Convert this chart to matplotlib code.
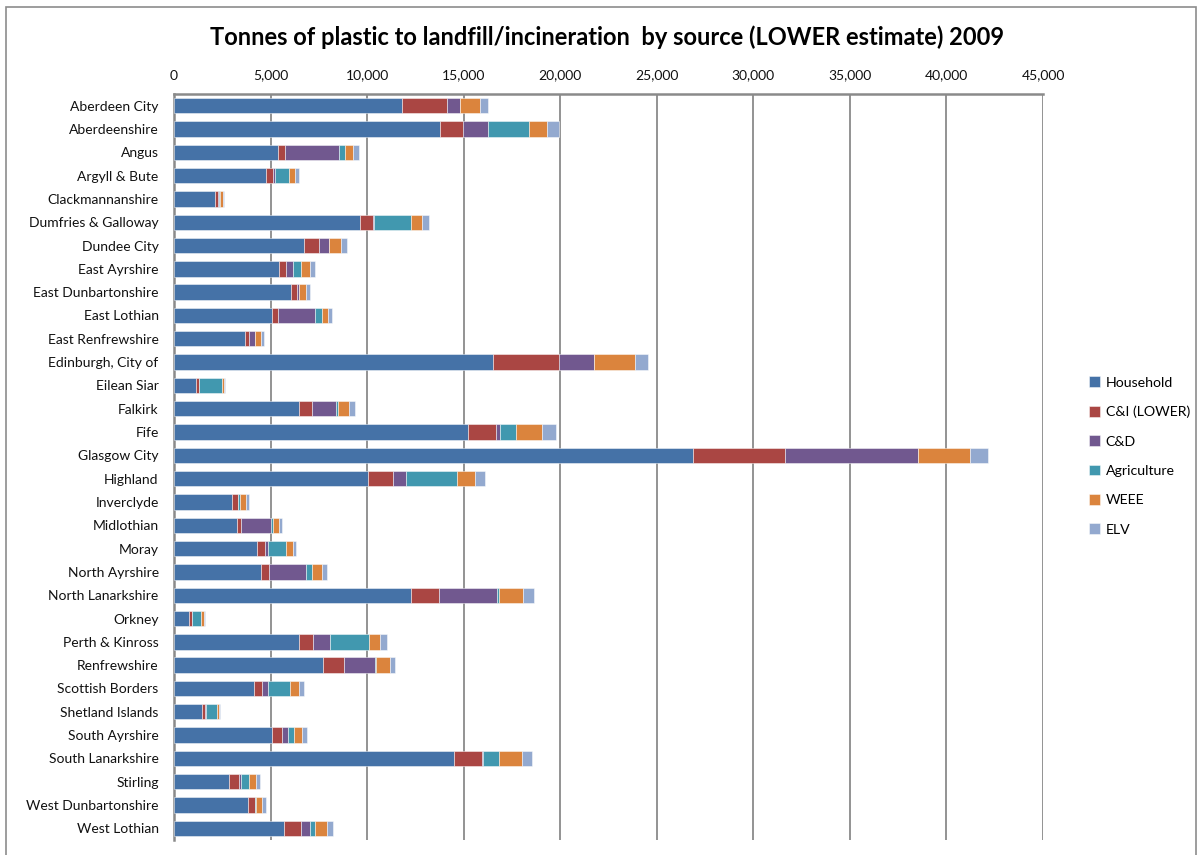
import matplotlib
matplotlib.use("Agg")
import matplotlib.pyplot as plt
from matplotlib.patches import Rectangle
from matplotlib.ticker import FuncFormatter
import numpy as np

plt.rcParams['font.family'] = ['Lato', 'DejaVu Sans']

councils = [
    "Aberdeen City", "Aberdeenshire", "Angus", "Argyll & Bute", "Clackmannanshire",
    "Dumfries & Galloway", "Dundee City", "East Ayrshire", "East Dunbartonshire",
    "East Lothian", "East Renfrewshire", "Edinburgh, City of", "Eilean Siar",
    "Falkirk", "Fife", "Glasgow City", "Highland", "Inverclyde", "Midlothian",
    "Moray", "North Ayrshire", "North Lanarkshire", "Orkney", "Perth & Kinross",
    "Renfrewshire", "Scottish Borders", "Shetland Islands", "South Ayrshire",
    "South Lanarkshire", "Stirling", "West Dunbartonshire", "West Lothian",
]

household = [11820, 13790, 5385, 4765, 2105, 9615, 6715, 5455, 6075, 5075, 3695,
             16500, 1155, 6475, 15240, 26900, 10065, 2985, 3245, 4315, 4520, 12290,
             795, 6490, 7735, 4125, 1465, 5075, 14480, 2865, 3815, 5680]
ci_lower = [2330, 1190, 380, 380, 170, 690, 810, 360, 310, 330, 205,
            3450, 140, 690, 1450, 4760, 1260, 310, 240, 380, 415, 1450,
            120, 725, 1070, 450, 155, 520, 1465, 520, 365, 915]
c_and_d = [655, 1260, 2780, 105, 35, 70, 520, 345, 70, 1900, 295,
           1795, 0, 1245, 190, 6870, 710, 0, 1535, 190, 1900, 3005,
           0, 880, 1605, 310, 35, 330, 50, 70, 40, 450]
agriculture = [0, 2155, 325, 710, 50, 1900, 0, 430, 0, 360, 0,
               0, 1190, 70, 810, 0, 2640, 120, 105, 930, 310, 85,
               485, 2020, 50, 1140, 570, 295, 830, 450, 45, 260]
weee = [1050, 930, 415, 330, 170, 570, 620, 450, 380, 310, 330,
        2140, 85, 585, 1380, 2690, 930, 330, 330, 365, 515, 1260,
        140, 570, 740, 465, 100, 430, 1190, 360, 310, 620]
elv = [400, 590, 275, 190, 85, 380, 275, 240, 190, 190, 120,
       640, 50, 310, 710, 915, 520, 120, 120, 155, 240, 570,
       50, 345, 260, 240, 40, 260, 520, 190, 205, 330]

series_names = ["Household", "C&I (LOWER)", "C&D", "Agriculture", "WEEE", "ELV"]
series_values = [household, ci_lower, c_and_d, agriculture, weee, elv]
series_colors = ["#4572A7", "#AA4643", "#71588F", "#4198AF", "#DB843D", "#93A9CF"]

x_ticks = [0, 5000, 10000, 15000, 20000, 25000, 30000, 35000, 40000, 45000]

fig = plt.figure(figsize=(12.02, 8.55), dpi=100)
fig.patch.set_facecolor("white")

# outer chart frame
fig.patches.append(Rectangle((6 / 1202, -0.01), 1190 / 1202, 1 - 7 / 855 + 0.01,
                             transform=fig.transFigure, fill=False,
                             edgecolor="#8c8c8c", linewidth=1.2))

ax = fig.add_axes([174 / 1202, 1 - 840 / 855, (1043 - 174) / 1202, (840 - 94) / 855])

y = np.arange(len(councils))
left = np.zeros(len(councils))
handles = []
for name, vals, col in zip(series_names, series_values, series_colors):
    vals = np.array(vals, dtype=float)
    h = ax.barh(y, vals, left=left, height=0.66, color=col, label=name,
                edgecolor=(1, 1, 1, 0.55), linewidth=0.6, zorder=3)
    handles.append(h)
    left += vals

ax.set_ylim(len(councils) - 0.5, -0.5)
ax.set_xlim(0, 45000)
ax.set_yticks(y)
ax.set_yticklabels(councils, fontsize=10, color="#111111")
ax.set_xticks(x_ticks)
ax.xaxis.set_major_formatter(FuncFormatter(lambda v, p: f"{int(v):,}"))
ax.xaxis.tick_top()
ax.tick_params(axis="x", length=0, pad=9, labelsize=10, labelcolor="#111111")
ax.tick_params(axis="y", length=0, pad=11)

ax.grid(axis="x", color="#8a8a8a", linewidth=1.3, zorder=0)
for side in ["bottom", "right"]:
    ax.spines[side].set_visible(False)
for side in ["left", "top"]:
    ax.spines[side].set_color("#8a8a8a")
    ax.spines[side].set_linewidth(1.8)

fig.text(607 / 1202, 1 - 37 / 855,
         "Tonnes of plastic to landfill/incineration  by source (LOWER estimate) 2009",
         ha="center", va="center", fontsize=17, fontweight="bold", color="#000000")

leg = fig.legend(handles=handles, labels=series_names, loc="center left",
                 bbox_to_anchor=(1083 / 1202, 1 - 456 / 855), frameon=False,
                 fontsize=10.2, handlelength=0.8, handleheight=0.8,
                 labelspacing=1.2, handletextpad=0.4, borderaxespad=0)

fig.savefig("out.png", dpi=100, facecolor="white")
